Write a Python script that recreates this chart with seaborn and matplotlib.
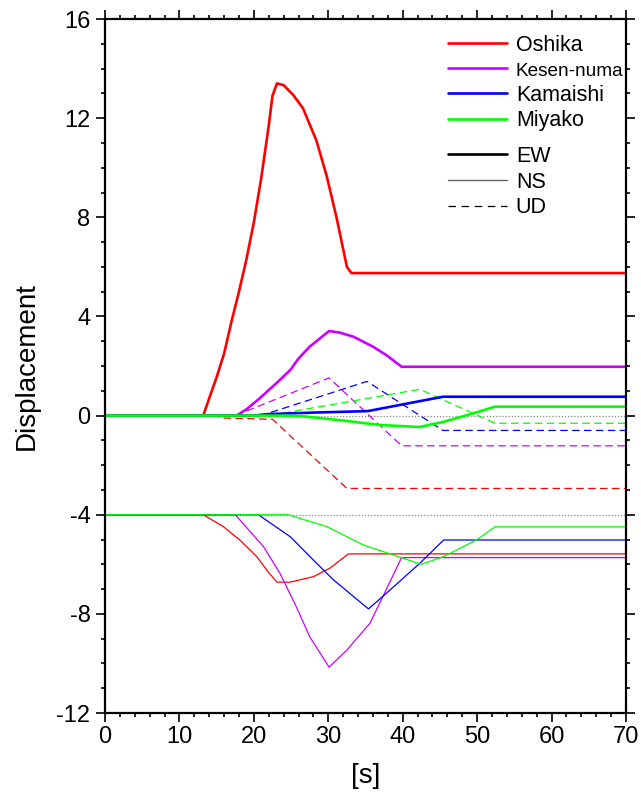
import matplotlib
matplotlib.use("Agg")
import matplotlib.pyplot as plt
import seaborn as sns
import pandas as pd
from matplotlib.lines import Line2D
from matplotlib.ticker import MultipleLocator

stations = ["Oshika", "Kesen-numa", "Kamaishi", "Miyako"]
components = ["EW", "NS", "UD"]
colors = {"Oshika": "#ff0000", "Kesen-numa": "#cc00ff", "Kamaishi": "#0000ff", "Miyako": "#00ff00"}

# EW (thick)
oshika_ew_t = [0, 13.2, 14, 15, 16, 17, 18, 19, 20, 21, 22, 22.5, 23.1, 24, 25.3, 26.6, 28.4, 29.8, 31.1, 32.5, 33.1, 70]
oshika_ew_y = [0, 0, 0.7, 1.55, 2.5, 3.8, 5.0, 6.3, 7.8, 9.6, 11.7, 12.9, 13.4, 13.33, 12.93, 12.4, 11.1, 9.65, 8.0, 6.0, 5.75, 5.75]
kesen_ew_t = [0, 17.7, 19, 20.8, 23, 24.9, 26, 27.5, 30.1, 31.5, 33.4, 36, 37.8, 39.85, 70]
kesen_ew_y = [0, 0, 0.25, 0.7, 1.3, 1.84, 2.3, 2.78, 3.41, 3.35, 3.18, 2.78, 2.44, 1.97, 1.97]
kamaishi_ew_t = [0, 20, 22, 28, 35.3, 45.4, 70]
kamaishi_ew_y = [0, 0, 0.06, 0.12, 0.18, 0.76, 0.76]
miyako_ew_t = [0, 24, 27, 32, 36.9, 42.3, 45.5, 49.5, 52.4, 70]
miyako_ew_y = [0, 0, -0.04, -0.2, -0.38, -0.46, -0.25, 0.09, 0.36, 0.36]

# NS (thin, plotted with -4 offset)
oshika_ns_t = [0, 13.2, 15.9, 18.1, 20.4, 21.9, 23.1, 24.9, 28, 30.2, 32.7, 70]
oshika_ns_y = [-4, -4, -4.48, -5.02, -5.69, -6.30, -6.72, -6.72, -6.50, -6.16, -5.58, -5.58]
kesen_ns_t = [0, 17.5, 21.3, 23.5, 25.7, 27.5, 30.1, 32.5, 35.6, 39.85, 70]
kesen_ns_y = [-4, -4, -5.29, -6.36, -7.71, -8.92, -10.15, -9.46, -8.38, -5.73, -5.73]
kamaishi_ns_t = [0, 20.6, 24.9, 28, 30.7, 35.4, 37.8, 42.3, 45.5, 70]
kamaishi_ns_y = [-4, -4, -4.89, -5.83, -6.63, -7.80, -7.17, -5.96, -5.02, -5.02]
miyako_ns_t = [0, 24.6, 29.8, 34.7, 42.5, 45.5, 49.9, 52.4, 70]
miyako_ns_y = [-4, -4, -4.48, -5.22, -6.0, -5.69, -5.02, -4.49, -4.49]

# UD (dashed)
oshika_ud_t = [0, 14.5, 16, 22.5, 32.5, 70]
oshika_ud_y = [0, 0, -0.1, -0.15, -2.94, -2.94]
kesen_ud_t = [0, 17.5, 30.1, 39.85, 70]
kesen_ud_y = [0, 0, 1.52, -1.22, -1.22]
kamaishi_ud_t = [0, 20.5, 22, 35.2, 45.4, 70]
kamaishi_ud_y = [0, 0, 0.1, 1.38, -0.6, -0.6]
miyako_ud_t = [0, 22, 42.3, 52.4, 70]
miyako_ud_y = [0, 0, 1.06, -0.31, -0.31]

series = [
    ("Oshika", "UD", oshika_ud_t, oshika_ud_y),
    ("Kesen-numa", "UD", kesen_ud_t, kesen_ud_y),
    ("Kamaishi", "UD", kamaishi_ud_t, kamaishi_ud_y),
    ("Miyako", "UD", miyako_ud_t, miyako_ud_y),
    ("Oshika", "NS", oshika_ns_t, oshika_ns_y),
    ("Kesen-numa", "NS", kesen_ns_t, kesen_ns_y),
    ("Kamaishi", "NS", kamaishi_ns_t, kamaishi_ns_y),
    ("Miyako", "NS", miyako_ns_t, miyako_ns_y),
    ("Oshika", "EW", oshika_ew_t, oshika_ew_y),
    ("Kesen-numa", "EW", kesen_ew_t, kesen_ew_y),
    ("Kamaishi", "EW", kamaishi_ew_t, kamaishi_ew_y),
    ("Miyako", "EW", miyako_ew_t, miyako_ew_y),
]

rows = []
for st, comp, ts, ys in series:
    for t, y in zip(ts, ys):
        rows.append({"t": t, "disp": y, "station": st, "comp": comp})
df = pd.DataFrame(rows)

sns.set_style("ticks")
plt.rcParams["font.family"] = ["Liberation Sans", "DejaVu Sans"]
plt.rcParams["axes.unicode_minus"] = False
plt.rcParams["text.color"] = "black"
plt.rcParams["axes.labelcolor"] = "black"

fig = plt.figure(figsize=(6.41, 7.96), dpi=100)
ax = fig.add_axes([105 / 641, 83 / 796, 521 / 641, 694 / 796])

# dotted baselines
for b in [0, -4]:
    ax.axhline(b, color="#888888", lw=0.9, ls=(0, (1, 1.5)), zorder=1)

sizes = {"EW": 1.9, "NS": 0.9, "UD": 0.9}
for comp in ["UD", "NS", "EW"]:
    sub = df[df["comp"] == comp]
    sns.lineplot(data=sub, x="t", y="disp", hue="station", hue_order=stations,
                 palette=colors, estimator=None, sort=False, units="station",
                 lw=sizes[comp], dashes=False, legend=False, ax=ax, zorder=2)
    if comp == "UD":
        for ln in ax.get_lines()[-4:]:
            ln.set_dashes((6, 3.5))

ax.set_xlim(0, 70)
ax.set_ylim(-12, 16)
ax.xaxis.set_major_locator(MultipleLocator(10))
ax.xaxis.set_minor_locator(MultipleLocator(2))
ax.yaxis.set_major_locator(MultipleLocator(4))
ax.yaxis.set_minor_locator(MultipleLocator(1))
ax.tick_params(which="both", direction="out", top=True, right=True, width=1.2, colors="black")
ax.tick_params(which="major", length=6.5, labelsize=17)
ax.tick_params(which="minor", length=3.2)
ax.tick_params(axis="x", which="major", pad=3)
ax.tick_params(axis="y", which="major", pad=4)
ax.tick_params(axis="x", labeltop=False)
ax.tick_params(axis="y", labelright=False)
for sp in ax.spines.values():
    sp.set_visible(True)
    sp.set_linewidth(1.6)
    sp.set_color("black")

ax.set_xlabel("[s]", fontsize=20, labelpad=11)
ax.set_ylabel("Displacement", fontsize=20, labelpad=12)

# legends
st_handles = [Line2D([], [], color=colors[s], lw=1.9) for s in stations]
leg1 = ax.legend(st_handles, stations, loc="upper left", bbox_to_anchor=(0.658, 0.977),
                 frameon=False, fontsize=15.5, handlelength=2.74, handletextpad=0.42,
                 labelspacing=0.22, borderpad=0, borderaxespad=0)
leg1.get_texts()[1].set_fontsize(13.7)
ax.add_artist(leg1)

comp_handles = [Line2D([], [], color="black", lw=1.9),
                Line2D([], [], color="#666666", lw=1.0),
                Line2D([], [], color="black", lw=0.9, dashes=(6, 4.5))]
ax.legend(comp_handles, components, loc="upper left", bbox_to_anchor=(0.658, 0.817),
          frameon=False, fontsize=15.5, handlelength=2.74, handletextpad=0.42,
          labelspacing=0.22, borderpad=0, borderaxespad=0)

fig.savefig("out.png", dpi=100)
